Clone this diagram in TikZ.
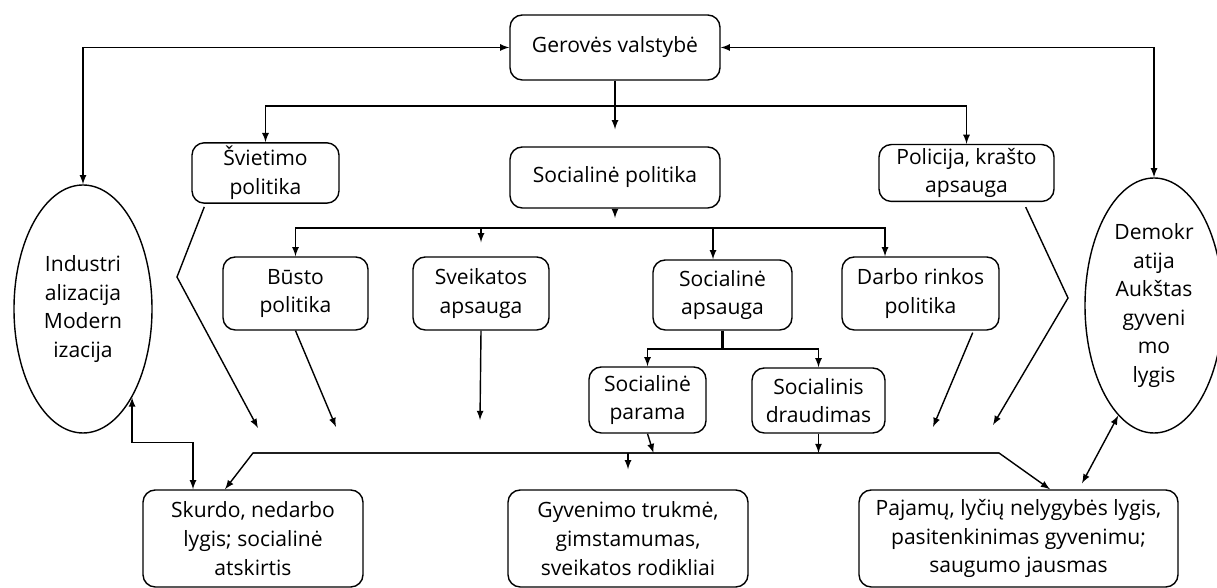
\documentclass[tikz,border=0pt]{standalone}
\usepackage{fontspec}
\setmainfont{Open Sans}
\usetikzlibrary{shapes.geometric}
\tikzset{
  % --- NODES ---
  box/.style={
    draw,
    rounded corners=7pt,
    font=\fontsize{12}{16.3}\selectfont,
    inner sep=2pt,
    align=center
  },
  oval/.style={
    draw,
    ellipse,
    font=\fontsize{12}{16.3}\selectfont,
    inner sep=0pt,
    align=center
  },
  % --- ARROWS ---
  arrw/.style={
    draw,
    -latex
  },
  biarrw/.style={
    draw,
    latex-latex
  },
  trunk/.style={
    draw,
    line width=1.6pt
  },
}
\begin{document}
\begin{tikzpicture}[line width=0.8pt]
  \useasboundingbox (0,0) rectangle (24.34,11.76);

  % --- top
  \node[box, minimum width=4.2cm, minimum height=1.3cm] (gerove) at (12.30,10.81) {Gerovės valstybė};
  % --- policy row
  \node[box, minimum width=2.94cm, minimum height=1.08cm] (svietimo) at (5.31,8.30) {Švietimo\\politika};
  \node[box, minimum width=4.2cm, minimum height=1.22cm] (socpol) at (12.30,8.21) {Socialinė politika};
  \node[box, minimum width=3.5cm, minimum height=1.08cm] (policija) at (19.33,8.30) {Policija, krašto\\apsauga};
  % --- social policy branches
  \node[box, minimum width=2.9cm, minimum height=1.46cm] (busto) at (5.91,5.89) {Būsto\\politika};
  \node[box, minimum width=2.72cm, minimum height=1.46cm] (sveik) at (9.62,5.89) {Sveikatos\\apsauga};
  \node[box, minimum width=2.78cm, minimum height=1.4cm] (socaps) at (14.45,5.86) {Socialinė\\apsauga};
  \node[box, minimum width=3.14cm, minimum height=1.46cm] (darbo) at (18.41,5.89) {Darbo rinkos\\politika};
  \node[box, minimum width=2.34cm, minimum height=1.32cm] (parama) at (12.95,3.76) {Socialinė\\parama};
  \node[box, minimum width=2.66cm, minimum height=1.3cm] (draud) at (16.37,3.75) {Socialinis\\draudimas};
  % --- outcomes
  \node[box, minimum width=4.4cm, minimum height=1.94cm] (skurdo) at (5.06,0.99) {Skurdo, nedarbo\\lygis; socialinė\\atskirtis};
  \node[box, minimum width=4.8cm, minimum height=1.94cm] (gyven) at (12.56,0.99) {Gyvenimo trukmė,\\gimstamumas,\\sveikatos rodikliai};
  \node[box, minimum width=6.38cm, minimum height=1.94cm] (pajamu) at (20.37,0.99) {Pajamų, lyčių nelygybės lygis,\\pasitenkinimas gyvenimu;\\saugumo jausmas};
  % --- context ovals
  \node[oval, minimum width=2.76cm, minimum height=4.96cm] (industr) at (1.66,5.58) {Industri\\alizacija\\Modern\\izacija};
  \node[oval, minimum width=2.76cm, minimum height=5.1cm] (demokr) at (23.08,5.65) {Demokr\\atija\\Aukštas\\gyveni\\mo\\lygis};

  % --- split and end points
  \coordinate (top-split) at (12.30,9.64);
  \coordinate (mid-split) at (12.30,7.20);
  \coordinate (aps-split) at (14.45,4.78);
  \coordinate (bot-left) at (5.06,2.70);
  \coordinate (bot-right) at (19.98,2.70);
  \coordinate (svietimo-bend) at (3.54,6.22);
  \coordinate (svietimo-tip) at (5.16,3.20);
  \coordinate (busto-tip) at (6.72,3.22);
  \coordinate (sveik-tip) at (9.60,3.36);
  \coordinate (darbo-tip) at (18.66,3.22);
  \coordinate (policija-bend) at (21.36,5.80);
  \coordinate (policija-tip) at (19.86,3.26);

  % --- arrows from the welfare state
  \draw[biarrw] (gerove) -| (industr);
  \draw[biarrw] (gerove) -| (demokr);
  \draw[arrw, shorten >=0.34cm] (gerove) -- (socpol);
  \draw[arrw] (top-split) -| (svietimo);
  \draw[arrw] (top-split) -| (policija);
  % --- social policy
  \draw[arrw, shorten >=0.2cm] (socpol) -- (mid-split);
  \draw[arrw] (mid-split) -| (busto);
  \draw[arrw, shorten >=0.28cm] (mid-split) -| (sveik);
  \draw[arrw] (mid-split) -| ([xshift=-0.19cm]socaps.north);
  \draw[arrw] (mid-split) -| ([xshift=-0.71cm]darbo.north);
  \draw[trunk] (socaps) -- (aps-split);
  \draw[arrw] (aps-split) -| (parama);
  \draw[arrw] (aps-split) -| (draud);
  % --- into the outcomes
  \draw[arrw] (parama.south) -- ([xshift=0.12cm]parama.south |- bot-left);
  \draw[arrw] (draud) -- (draud |- bot-left);
  \draw[arrw] (bot-right) -- (bot-left) -- ([xshift=-0.56cm]skurdo.north);
  \draw[arrw] (bot-left) -- (bot-right) -- ([xshift=0.63cm]pajamu.north);
  \draw[arrw, shorten >=0.4cm] (gyven |- bot-left) -- (gyven);
  \draw[arrw] ([xshift=0.26cm, yshift=-0.06cm]svietimo.south west) -- (svietimo-bend) -- (svietimo-tip);
  \draw[arrw] (busto.south) -- (busto-tip);
  \draw[arrw] (sveik.south) -- (sveik-tip);
  \draw[arrw] ([xshift=-0.54cm, yshift=-0.04cm]darbo.south east) -- (darbo-tip);
  \draw[arrw] ([xshift=-0.58cm, yshift=-0.1cm]policija.south east) -- (policija-bend) -- (policija-tip);
  % --- feedback
  \draw[biarrw] (industr.-61) -- ++(0,-0.9) -| ([xshift=-1.2cm]skurdo.north);
  \draw[biarrw] ([xshift=1.27cm, yshift=0.12cm]pajamu.north) -- (demokr.252);

\end{tikzpicture}
\end{document}
